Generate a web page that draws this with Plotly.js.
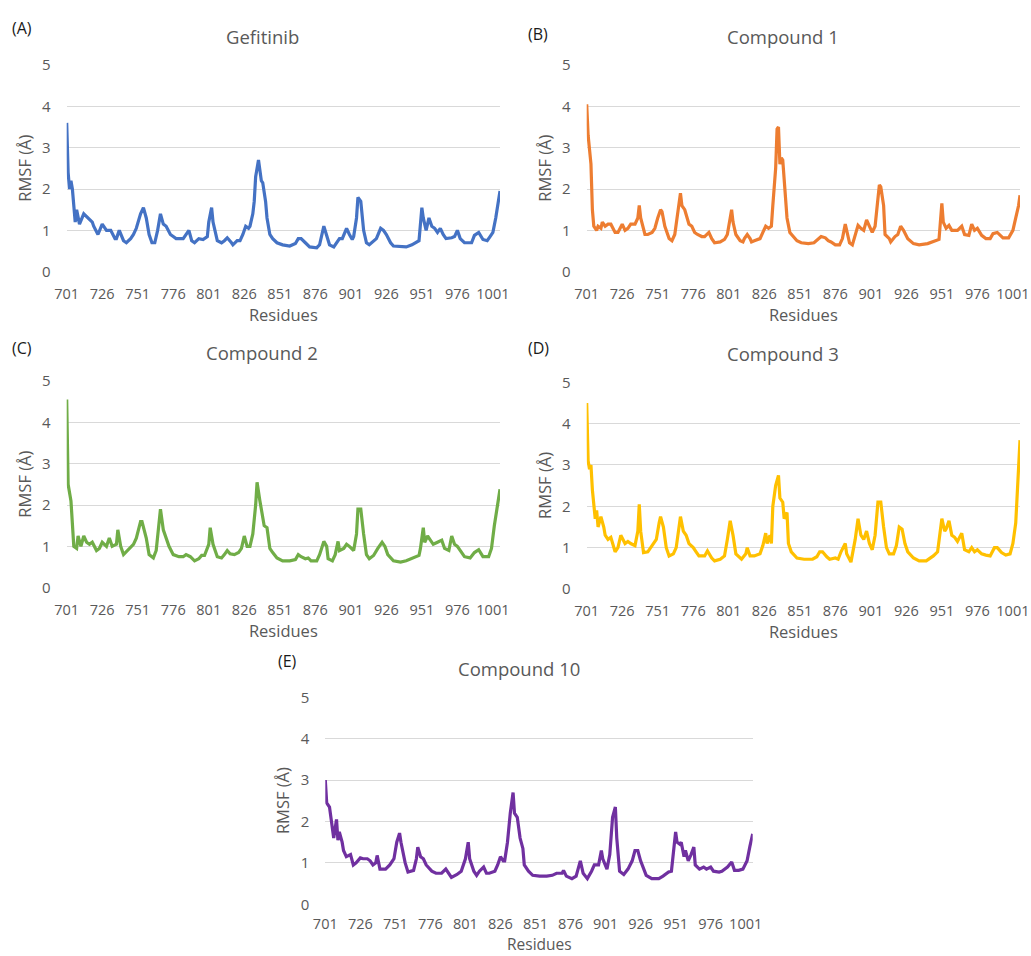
<!DOCTYPE html>
<html>
<head>
<meta charset="utf-8">
<script src="https://cdn.plot.ly/plotly-3.0.1.min.js"></script>
<style>html,body{margin:0;padding:0;background:#fff;}#chart{width:1031px;height:956px;}</style>
</head>
<body>
<div id="chart"></div>
<script>
// ---- Data (residue, RMSF in Å) ----
const xTicks = [701,726,751,776,801,826,851,876,901,926,951,976,1001];
const panelTitles = ["Gefitinib","Compound 1","Compound 2","Compound 3","Compound 10"];
const panelLetters = ["(A)","(B)","(C)","(D)","(E)"];

const gefitinib = [[701,3.6],[702,2.4],[703,2.0],[704,2.2],[705,2.0],[706,1.5],[707,1.2],[708,1.5],[710,1.15],[713,1.4],[716,1.3],[719,1.2],[720,1.1],[722,0.95],[723,0.9],[726,1.15],[729,1.0],[732,1.0],[735,0.8],[736,0.8],[738,1.0],[741,0.75],[743,0.7],[746,0.8],[748,0.9],[750,1.05],[753,1.4],[755,1.55],[757,1.3],[759,0.9],[761,0.7],[763,0.7],[765,1.0],[767,1.4],[769,1.15],[771,1.1],[774,0.9],[776,0.85],[778,0.8],[783,0.8],[787,1.0],[789,0.75],[791,0.7],[794,0.8],[797,0.78],[800,0.85],[801,1.2],[803,1.55],[804,1.2],[807,0.75],[810,0.7],[812,0.75],[814,0.82],[817,0.7],[818,0.65],[821,0.75],[823,0.75],[825,0.9],[827,1.1],[829,1.05],[830,1.1],[832,1.4],[833,1.7],[834,2.3],[836,2.7],[838,2.2],[839,2.15],[841,1.7],[842,1.3],[844,0.9],[846,0.8],[849,0.7],[853,0.65],[858,0.62],[862,0.68],[864,0.8],[866,0.8],[869,0.7],[872,0.6],[877,0.58],[879,0.65],[882,1.1],[883,1.0],[886,0.65],[889,0.6],[891,0.7],[893,0.8],[895,0.8],[898,1.05],[900,0.9],[902,0.78],[903,0.85],[905,1.3],[906,1.8],[908,1.7],[910,1.0],[912,0.7],[914,0.65],[917,0.75],[919,0.8],[922,1.05],[924,1.0],[926,0.9],[929,0.7],[931,0.62],[936,0.6],[940,0.6],[944,0.65],[947,0.7],[949,0.75],[951,1.55],[952,1.3],[954,1.0],[956,1.3],[958,1.1],[960,1.05],[962,0.95],[964,1.05],[966,0.9],[968,0.8],[972,0.82],[974,0.85],[976,1.0],[978,0.8],[981,0.7],[986,0.7],[988,0.88],[991,0.95],[994,0.78],[997,0.75],[999,0.85],[1001,0.95],[1003,1.3],[1005,1.7],[1006,1.95]];

const compound1 = [[701,4.05],[702,3.3],[704,2.6],[705,1.5],[706,1.1],[708,1.0],[709,1.1],[711,1.05],[712,1.2],[714,1.1],[716,1.15],[718,1.15],[721,0.95],[723,0.95],[726,1.15],[728,1.0],[730,1.05],[732,1.15],[735,1.15],[737,1.3],[738,1.6],[739,1.3],[742,0.9],[744,0.9],[747,0.95],[749,1.05],[751,1.3],[753,1.5],[754,1.45],[756,1.1],[759,0.8],[761,0.75],[763,0.9],[765,1.4],[767,1.9],[768,1.6],[770,1.5],[773,1.15],[775,1.1],[777,0.95],[779,0.9],[782,0.85],[784,0.85],[787,0.95],[789,0.8],[791,0.7],[795,0.72],[798,0.78],[800,0.9],[802,1.3],[803,1.5],[804,1.2],[806,0.9],[809,0.75],[811,0.72],[812,0.8],[814,0.9],[816,0.8],[817,0.72],[819,0.75],[823,0.8],[825,0.95],[827,1.1],[829,1.05],[831,1.1],[832,1.6],[834,2.5],[835,3.45],[836,3.5],[837,2.6],[838,2.75],[839,2.7],[841,1.9],[842,1.3],[844,0.95],[846,0.88],[849,0.75],[852,0.7],[857,0.68],[861,0.7],[864,0.78],[866,0.85],[869,0.82],[871,0.75],[873,0.72],[876,0.65],[879,0.65],[881,0.8],[883,1.15],[884,1.0],[886,0.7],[888,0.65],[891,1.0],[892,1.12],[894,1.05],[896,1.0],[898,1.25],[900,1.1],[902,0.95],[904,1.1],[906,1.8],[907,2.1],[908,2.05],[910,1.6],[911,0.9],[914,0.8],[915,0.72],[918,0.85],[920,0.9],[922,1.1],[924,1.0],[927,0.8],[931,0.68],[935,0.65],[941,0.68],[946,0.75],[949,0.78],[951,1.65],[952,1.2],[954,1.05],[956,1.12],[958,1.0],[962,1.0],[965,1.1],[967,0.9],[970,0.88],[972,1.15],[974,1.0],[976,1.05],[979,0.88],[982,0.8],[985,0.8],[987,0.92],[990,0.95],[994,0.82],[998,0.82],[1001,1.0],[1003,1.3],[1005,1.6],[1006,1.85]];

const compound2 = [[701,4.55],[702,2.5],[704,2.1],[706,1.0],[708,0.95],[709,1.25],[711,1.0],[713,1.25],[715,1.1],[717,1.05],[719,1.1],[722,0.9],[724,0.95],[726,1.1],[729,1.0],[731,1.2],[733,1.0],[736,1.05],[737,1.4],[739,1.0],[741,0.8],[744,0.9],[748,1.05],[750,1.2],[753,1.6],[754,1.6],[757,1.2],[759,0.8],[762,0.72],[764,0.9],[766,1.5],[767,1.9],[769,1.4],[770,1.3],[773,1.0],[776,0.8],[780,0.75],[783,0.75],[785,0.8],[788,0.75],[791,0.65],[794,0.7],[796,0.78],[798,0.78],[801,1.05],[802,1.45],[804,1.05],[807,0.75],[810,0.72],[812,0.8],[814,0.9],[816,0.82],[819,0.8],[822,0.85],[824,0.95],[826,1.25],[828,1.0],[830,1.0],[832,1.3],[834,2.0],[835,2.55],[837,2.1],[838,1.9],[840,1.5],[842,1.45],[844,0.95],[846,0.85],[849,0.72],[853,0.65],[858,0.65],[862,0.68],[864,0.8],[866,0.75],[869,0.7],[871,0.72],[873,0.65],[877,0.65],[879,0.8],[882,1.12],[884,1.0],[885,0.7],[888,0.65],[890,0.8],[892,1.12],[893,0.9],[896,0.95],[898,1.05],[900,1.0],[903,0.9],[905,1.3],[906,1.9],[908,1.9],[910,1.3],[912,0.8],[914,0.7],[917,0.78],[920,0.95],[923,1.1],[925,1.0],[927,0.8],[931,0.65],[936,0.62],[940,0.65],[945,0.72],[949,0.78],[950,0.95],[952,1.45],[953,1.1],[955,1.25],[957,1.15],[959,1.05],[962,1.1],[965,1.15],[967,0.95],[970,0.9],[972,1.25],[974,1.05],[976,1.0],[978,0.9],[981,0.75],[985,0.72],[988,0.85],[991,0.92],[994,0.75],[998,0.75],[1000,0.95],[1002,1.5],[1004,2.0],[1006,2.38]];

const compound3 = [[701,4.5],[702,3.1],[703,2.9],[704,3.0],[705,2.4],[707,1.7],[708,1.9],[709,1.5],[711,1.75],[713,1.5],[714,1.3],[716,1.2],[718,1.25],[721,0.9],[723,1.0],[725,1.3],[728,1.1],[730,1.15],[732,1.1],[735,1.05],[737,1.4],[738,2.05],[739,1.4],[741,0.88],[744,0.9],[748,1.1],[750,1.2],[752,1.6],[753,1.75],[755,1.5],[757,1.0],[759,0.8],[762,0.85],[764,1.0],[766,1.45],[767,1.75],[769,1.4],[771,1.3],[773,1.1],[776,1.0],[778,0.9],[780,0.8],[784,0.8],[786,0.92],[789,0.75],[791,0.68],[795,0.72],[798,0.8],[800,1.2],[802,1.65],[804,1.3],[806,0.85],[810,0.72],[813,0.85],[814,1.0],[816,0.8],[819,0.8],[823,0.85],[825,1.05],[827,1.35],[828,1.1],[830,1.3],[831,1.1],[832,2.0],[834,2.5],[836,2.75],[837,2.2],[839,2.1],[840,1.7],[842,1.85],[843,1.1],[845,0.9],[849,0.75],[854,0.72],[860,0.72],[863,0.78],[865,0.9],[867,0.9],[870,0.78],[872,0.72],[876,0.75],[878,0.72],[880,0.9],[883,1.1],[884,0.85],[887,0.65],[890,1.2],[892,1.7],[894,1.3],[896,1.2],[898,1.4],[900,1.1],[902,0.95],[904,1.3],[906,2.1],[908,2.1],[910,1.5],[912,1.0],[914,0.85],[917,0.85],[919,1.05],[921,1.5],[923,1.45],[925,1.1],[927,0.9],[931,0.75],[935,0.68],[940,0.68],[945,0.8],[948,0.9],[951,1.7],[953,1.4],[954,1.45],[956,1.65],[958,1.3],[960,1.25],[962,1.15],[965,1.35],[967,0.95],[970,0.9],[972,1.0],[974,0.9],[976,0.95],[979,0.85],[982,0.82],[985,0.8],[988,1.0],[990,1.0],[993,0.88],[996,0.82],[999,0.85],[1001,1.1],[1003,1.6],[1005,2.8],[1006,3.6]];

const compound10 = [[701,3.0],[702,2.45],[704,2.35],[706,1.8],[707,1.6],[709,2.05],[710,1.55],[711,1.75],[713,1.5],[714,1.3],[716,1.15],[719,1.2],[721,0.95],[723,1.0],[726,1.12],[728,1.1],[731,1.1],[733,1.05],[735,0.95],[737,1.0],[738,1.18],[740,0.85],[744,0.85],[747,0.95],[750,1.1],[752,1.5],[754,1.72],[755,1.5],[758,1.0],[760,0.78],[764,0.82],[766,1.1],[767,1.38],[769,1.15],[771,1.1],[773,0.95],[777,0.8],[780,0.75],[784,0.75],[787,0.85],[789,0.75],[791,0.65],[795,0.72],[798,0.8],[801,1.1],[803,1.5],[804,1.1],[807,0.8],[809,0.7],[811,0.8],[814,0.9],[816,0.75],[818,0.75],[822,0.8],[824,0.95],[826,1.15],[828,1.05],[829,1.05],[831,1.5],[833,2.2],[835,2.7],[836,2.2],[838,2.1],[840,1.6],[842,1.35],[843,0.95],[846,0.8],[849,0.7],[854,0.68],[859,0.68],[863,0.7],[866,0.75],[870,0.75],[871,0.82],[873,0.68],[877,0.62],[880,0.68],[882,0.95],[883,1.05],[885,0.75],[888,0.62],[891,0.8],[893,0.95],[896,0.95],[898,1.3],[899,1.1],[902,0.85],[904,1.2],[906,2.1],[908,2.35],[909,1.6],[911,0.8],[914,0.72],[917,0.85],[920,1.05],[922,1.3],[924,1.3],[926,1.05],[928,0.85],[930,0.7],[934,0.62],[939,0.62],[942,0.68],[946,0.78],[948,0.8],[951,1.75],[952,1.5],[954,1.45],[955,1.5],[957,1.15],[958,1.3],[960,1.05],[962,1.2],[964,1.38],[965,0.95],[968,0.85],[971,0.9],[973,0.85],[976,0.9],[978,0.8],[982,0.78],[984,0.8],[988,0.9],[991,1.02],[993,0.82],[996,0.82],[999,0.85],[1002,1.05],[1004,1.4],[1006,1.7]];

// ---- Layout / styling ----
const W = 1031, H = 956;
const px = v => v / W;
const py = v => 1 - v / H;

const seriesList = [gefitinib, compound1, compound2, compound3, compound10];
const colors = ["#4472C4","#ED7D31","#70AD47","#FFC000","#7030A0"];
// plot-area boxes in pixels: [left, right, top(y=5), bottom(y=0)]
const boxes = [
  [66.7, 500, 65, 271.7],
  [586.7, 1020, 65, 271.7],
  [66.7, 500, 381, 587.7],
  [586.7, 1020, 382.3, 589],
  [325.3, 752.7, 697.3, 904.3]
];
const titlePos = [[262,36],[783,36],[262,352.7],[783,353.3],[519.3,668.3]];
const letterPos = [[22,28],[538,34],[22,348],[538,348],[287,661]];

const FONT = "Open Sans, Liberation Sans, sans-serif";
const grey = "#595959";

const traces = [];
const layout = {
  width: W, height: H,
  margin: {l:0, r:0, t:0, b:0},
  paper_bgcolor: "#fff", plot_bgcolor: "#fff",
  showlegend: false,
  font: {family: FONT, color: grey},
  annotations: []
};

seriesList.forEach((s, i) => {
  const n = i + 1;
  const xa = n === 1 ? "x" : "x" + n;
  const ya = n === 1 ? "y" : "y" + n;
  const isLast = i === seriesList.length - 1;
  traces.push({
    type: "scatter", mode: "lines",
    x: s.map(p => p[0]), y: s.map(p => p[1]),
    xaxis: xa, yaxis: ya,
    line: {color: colors[i], width: 3.2},
    hoverinfo: "x+y"
  });
  const b = boxes[i];
  const yRange = [0, 5.01];
  const bottomPaper = py(b[3]);
  const topPaper = py(b[2]) + (py(b[2]) - py(b[3])) * 0.01 / 5;
  layout[(n === 1 ? "xaxis" : "xaxis" + n)] = {
    domain: [px(b[0]), px(b[1])],
    anchor: ya,
    range: [701, 1006],
    tickmode: "array",
    tickvals: xTicks,
    ticktext: xTicks.map(String),
    tickangle: 0,
    showgrid: false, zeroline: false, showline: false,
    ticks: "outside", ticklen: isLast ? 6 : 9, tickcolor: "rgba(0,0,0,0)",
    tickfont: {family: FONT, size: 14.5, color: grey},
    title: isLast ? {text: ""} : {text: "Residues", font: {family: FONT, size: 16.5, color: grey}, standoff: 3},
    fixedrange: true
  };
  layout[(n === 1 ? "yaxis" : "yaxis" + n)] = {
    domain: [bottomPaper, topPaper],
    anchor: xa,
    range: yRange,
    tickmode: "array",
    tickvals: [0,1,2,3,4,5],
    showgrid: true, gridcolor: "#d9d9d9", gridwidth: 1,
    zeroline: false, showline: false,
    ticks: "outside", ticklen: 12, tickcolor: "rgba(0,0,0,0)",
    tickfont: {family: FONT, size: 15, color: grey},
    title: {text: "RMSF (Å)", font: {family: FONT, size: 16.5, color: grey}, standoff: 6},
    fixedrange: true
  };
  if (isLast) {
    // bottom panel: x-axis title placed at the lower edge, as in the reference
    layout.annotations.push({
      text: "Residues", xref: "paper", yref: "paper",
      x: px((b[0] + b[1]) / 2), y: 0,
      xanchor: "center", yanchor: "bottom", showarrow: false,
      borderpad: 0,
      font: {family: FONT, size: 15.5, color: grey}
    });
  }
  layout.annotations.push({
    text: panelTitles[i], xref: "paper", yref: "paper",
    x: px(titlePos[i][0]), y: py(titlePos[i][1]),
    xanchor: "center", yanchor: "middle", showarrow: false,
    font: {family: FONT, size: 18.5, color: grey}
  });
  layout.annotations.push({
    text: panelLetters[i], xref: "paper", yref: "paper",
    x: px(letterPos[i][0]), y: py(letterPos[i][1]),
    xanchor: "center", yanchor: "middle", showarrow: false,
    font: {family: FONT, size: 16, color: "#1a1a1a"}
  });
});

Plotly.newPlot("chart", traces, layout, {displayModeBar: false});
</script>
</body>
</html>
